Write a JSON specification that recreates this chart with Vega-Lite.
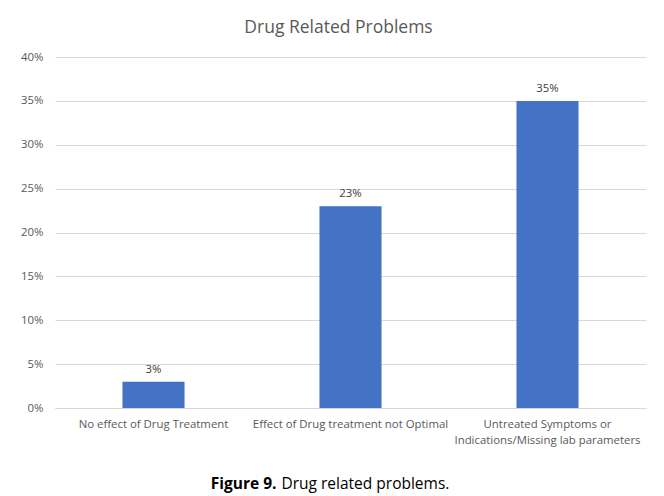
{
  "$schema": "https://vega.github.io/schema/vega-lite/v6.json",
  "autosize": {"type": "none"},
  "width": 591,
  "height": 351,
  "padding": {"left": 55, "top": 57, "right": 18, "bottom": 88},
  "background": "white",
  "title": {
    "text": "Drug Related Problems",
    "font": "Open Sans",
    "fontSize": 17.5,
    "fontWeight": "normal",
    "color": "#595959",
    "dx": -12,
    "offset": 15
  },
  "data": {
    "values": [
      {"problem": "No effect of Drug Treatment", "share": 0.03},
      {"problem": "Effect of Drug treatment not Optimal", "share": 0.23},
      {"problem": "Untreated Symptoms or Indications/Missing lab parameters", "share": 0.35}
    ]
  },
  "encoding": {
    "x": {
      "field": "problem",
      "type": "nominal",
      "sort": null,
      "scale": {"paddingInner": 0.685, "paddingOuter": 0.3425},
      "axis": {
        "title": "Figure 9.",
        "titleFont": "Open Sans",
        "titleFontSize": 15.5,
        "titleFontWeight": "bold",
        "titleColor": "#000000",
        "titleX": 221,
        "titleY": 80,
        "titleAlign": "right",
        "titleBaseline": "alphabetic",
        "labelAngle": 0,
        "labelFont": "Open Sans",
        "labelFontSize": 11.4,
        "labelColor": "#595959",
        "labelPadding": 10,
        "labelLineHeight": 16,
        "labelLimit": 300,
        "labelExpr": "datum.value == 'Untreated Symptoms or Indications/Missing lab parameters' ? ['Untreated Symptoms or', 'Indications/Missing lab parameters'] : datum.value",
        "ticks": false,
        "domainColor": "#d9d9d9",
        "domainWidth": 1
      }
    },
    "y": {
      "field": "share",
      "type": "quantitative",
      "scale": {"domain": [0, 0.4], "nice": false},
      "axis": {
        "values": [0, 0.05, 0.1, 0.15, 0.2, 0.25, 0.3, 0.35, 0.4],
        "format": ".0%",
        "title": "Drug related problems.",
        "titleFont": "Open Sans",
        "titleFontSize": 15.5,
        "titleFontWeight": "normal",
        "titleColor": "#000000",
        "titleAngle": 0,
        "titleX": 226,
        "titleY": 431,
        "titleAlign": "left",
        "titleBaseline": "alphabetic",
        "labelFont": "Open Sans",
        "labelFontSize": 11.4,
        "labelColor": "#595959",
        "labelPadding": 12,
        "ticks": false,
        "domain": false,
        "grid": true,
        "gridColor": "#d9d9d9",
        "gridWidth": 1
      }
    }
  },
  "layer": [
    {"mark": {"type": "bar", "color": "#4472C4"}},
    {
      "mark": {
        "type": "text",
        "baseline": "bottom",
        "dy": -7,
        "font": "Open Sans",
        "fontSize": 11.4,
        "color": "#404040"
      },
      "encoding": {"text": {"field": "share", "type": "quantitative", "format": ".0%"}}
    }
  ],
  "config": {"view": {"stroke": null}}
}
